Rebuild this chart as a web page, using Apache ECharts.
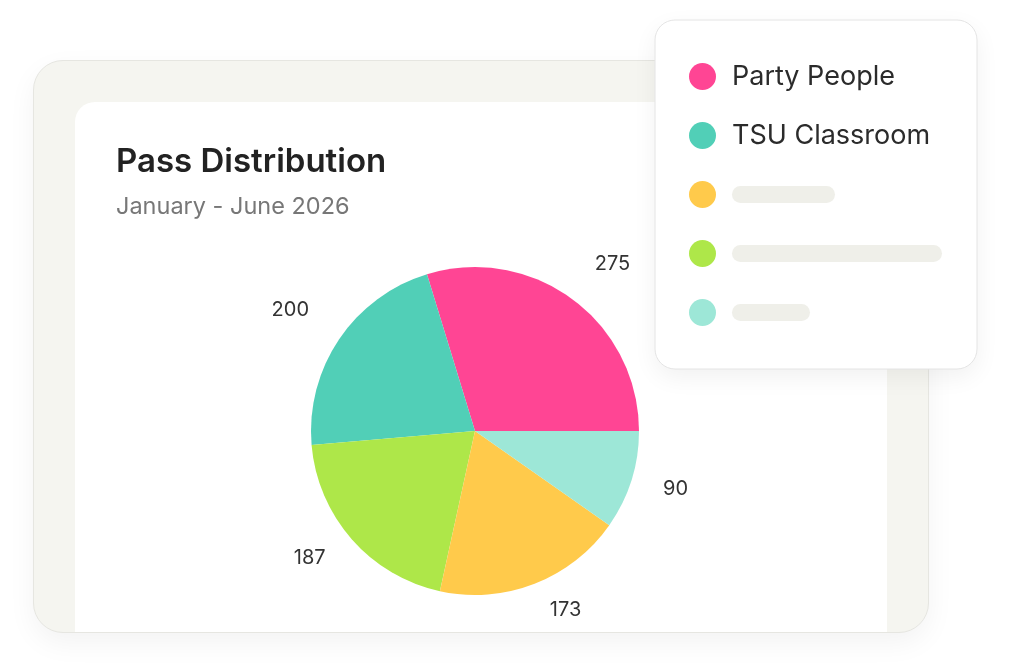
<!DOCTYPE html>
<html>
<head>
<meta charset="utf-8">
<script src="https://cdn.jsdelivr.net/npm/echarts@6/dist/echarts.min.js"></script>
<style>
    html, body { margin: 0; padding: 0; background: #ffffff; width: 1024px; height: 666px; overflow: hidden; }
    #outer {
        position: absolute; left: 33px; top: 60px; width: 894px; height: 571px;
        background: #f5f5f0; border: 1px solid #e6e6e1; border-radius: 30px;
        box-shadow: 0 10px 28px rgba(0, 0, 0, 0.05); overflow: hidden;
    }
    #inner {
        position: absolute; left: 41px; top: 41px; width: 812px; height: 560px;
        background: #ffffff; border-radius: 20px 20px 0 0;
    }
    #chart { position: absolute; left: 0; top: 0; width: 1024px; height: 666px; }
</style>
</head>
<body>
<div id="outer"><div id="inner"></div></div>
<div id="chart"></div>
<script>
// data
var names = ['Party People', 'TSU Classroom', 'Group C', 'Group D', 'Group E'];
var values = [275, 200, 187, 173, 90];
var colors = ['#ff4594', '#51cfb7', '#aee749', '#ffca4b', '#9de7d7'];
var legendOrder = ['Party People', 'TSU Classroom', 'Group D', 'Group C', 'Group E'];

// placeholder bars in the legend card for the unnamed groups
var placeholder = {'Group D': 'ph1', 'Group C': 'ph2', 'Group E': 'ph3'};

// label tweaks for the two upper slices
var labelTweak = {
    'Party People': {length: 44, dist: -4},
    'TSU Classroom': {length: 52, dist: -13}
};

var chart = echarts.init(document.getElementById('chart'));

var pieData = [];
for (var i = 0; i < names.length; i++) {
    var item = {value: values[i], name: names[i], itemStyle: {color: colors[i]}};
    var tw = labelTweak[names[i]];
    if (tw) {
        item.labelLine = {show: false, length: tw.length, length2: 0};
        item.label = {distanceToLabelLine: tw.dist};
    }
    pieData.push(item);
}

function bar(w) {
    return {width: w, height: 17, backgroundColor: '#efefe9', borderRadius: 8.5};
}

var option = {
    animation: false,
    title: {
        text: 'Pass Distribution',
        subtext: 'January - June 2026',
        left: 116,
        top: 146,
        padding: 0,
        itemGap: 16,
        textStyle: {fontFamily: 'Inter', fontSize: 33, fontWeight: 600, color: '#222222'},
        subtextStyle: {fontFamily: 'Inter', fontSize: 23.5, fontWeight: 400, color: '#777777'}
    },
    legend: {
        orient: 'vertical',
        left: 655,
        top: 20,
        padding: [43, 35, 43, 34],
        data: legendOrder,
        icon: 'circle',
        itemWidth: 27,
        itemHeight: 27,
        itemGap: 32,
        backgroundColor: '#ffffff',
        borderColor: '#e4e4e4',
        borderWidth: 1,
        borderRadius: 20,
        shadowBlur: 24,
        shadowOffsetY: 8,
        shadowColor: 'rgba(0,0,0,0.06)',
        selectedMode: false,
        formatter: function (name) {
            if (placeholder[name]) {
                return '{' + placeholder[name] + '| }';
            }
            return name;
        },
        textStyle: {
            fontFamily: 'Inter',
            fontSize: 27,
            color: '#2b2b2b',
            lineHeight: 27,
            padding: [0, 0, 0, 11],
            rich: {
                ph1: bar(103),
                ph2: bar(210),
                ph3: bar(78)
            }
        }
    },
    series: [
        {
            type: 'pie',
            center: [475, 431],
            radius: 164,
            startAngle: 0,
            clockwise: false,
            data: pieData,
            label: {
                show: true,
                position: 'outside',
                formatter: '{c}',
                fontFamily: 'Inter',
                fontSize: 20,
                color: '#333333'
            },
            labelLine: {show: false, length: 28, length2: 0},
            emphasis: {disabled: true}
        }
    ]
};

chart.setOption(option);
</script>
</body>
</html>
